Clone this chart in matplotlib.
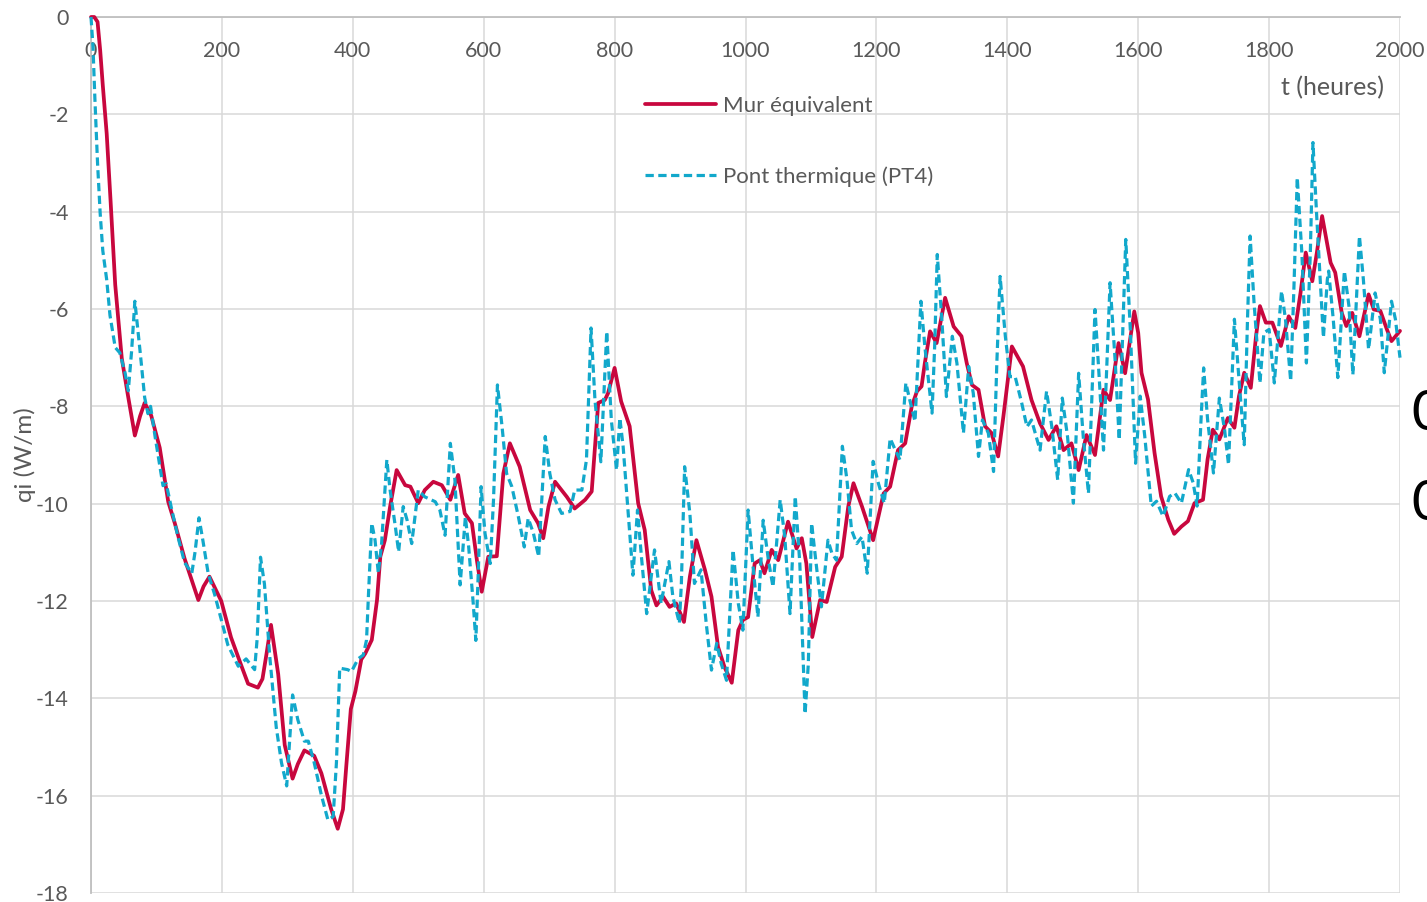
import numpy as np
import matplotlib.pyplot as plt

plt.rcParams['font.family'] = ['Lato', 'DejaVu Sans']

# Mur équivalent
t_mur = [0, 5, 10, 14, 18, 24, 30, 37, 47, 57, 67, 75, 82, 92, 105, 118, 128, 143, 164, 172,
         181, 199, 214, 230, 240, 255, 262, 268, 275, 286, 296, 308, 316, 326, 341, 352, 367, 377, 385, 390,
         397, 404, 413, 419, 429, 437, 442, 449, 457, 467, 480, 488, 500, 510, 523, 536, 549, 561, 571, 582,
         590, 597, 607, 620, 630, 640, 655, 671, 683, 691, 699, 709, 727, 739, 755, 765, 775, 785, 790, 800,
         810, 823, 836, 846, 856, 864, 874, 884, 894, 906, 915, 925, 938, 948, 958, 968, 979, 989, 996, 1004,
         1014, 1022, 1029, 1040, 1050, 1065, 1078, 1086, 1093, 1102, 1114, 1124, 1137, 1147, 1157, 1165, 1178, 1195, 1211, 1221,
         1233, 1244, 1254, 1262, 1269, 1274, 1282, 1292, 1305, 1318, 1330, 1338, 1346, 1356, 1366, 1376, 1386, 1394, 1407, 1424,
         1437, 1450, 1463, 1475, 1486, 1498, 1509, 1521, 1534, 1547, 1557, 1570, 1580, 1594, 1600, 1605, 1615, 1625, 1635, 1646,
         1655, 1666, 1676, 1686, 1699, 1706, 1714, 1724, 1737, 1747, 1754, 1762, 1772, 1780, 1786, 1795, 1805, 1818, 1830, 1840,
         1848, 1856, 1866, 1873, 1881, 1894, 1901, 1911, 1918, 1927, 1938, 1952, 1960, 1970, 1980, 1987, 2000]
q_mur = [0.0, 0.0, -0.1, -0.68, -1.4, -2.4, -3.8, -5.5, -7.01, -7.82, -8.6, -8.2, -7.93, -8.19, -8.85, -9.96, -10.4, -11.13, -11.98, -11.7,
         -11.5, -12.0, -12.75, -13.34, -13.7, -13.78, -13.6, -13.1, -12.49, -13.5, -14.96, -15.65, -15.35, -15.07, -15.18, -15.54, -16.28, -16.68, -16.28, -15.4,
         -14.22, -13.85, -13.2, -13.08, -12.8, -11.98, -11.09, -10.75, -10.06, -9.31, -9.62, -9.65, -9.99, -9.72, -9.55, -9.62, -9.92, -9.41, -10.2, -10.4,
         -11.2, -11.81, -11.09, -11.08, -9.38, -8.76, -9.24, -10.13, -10.4, -10.71, -10.06, -9.55, -9.86, -10.1, -9.92, -9.75, -7.93, -7.87, -7.73, -7.21,
         -7.9, -8.41, -9.99, -10.54, -11.78, -12.09, -11.91, -12.12, -12.05, -12.43, -11.5, -10.75, -11.36, -11.91, -12.94, -13.36, -13.68, -12.6, -12.39, -12.33,
         -11.23, -11.16, -11.43, -10.95, -11.16, -10.37, -10.92, -10.71, -11.23, -12.74, -11.98, -12.02, -11.3, -11.09, -10.06, -9.58, -10.06, -10.75, -9.79, -9.65,
         -8.9, -8.76, -8.0, -7.69, -7.59, -7.11, -6.46, -6.7, -5.77, -6.36, -6.56, -7.11, -7.56, -7.66, -8.41, -8.55, -9.03, -8.21, -6.77, -7.18,
         -7.87, -8.35, -8.69, -8.41, -8.9, -8.76, -9.31, -8.59, -9.0, -7.66, -7.87, -6.7, -7.32, -6.05, -6.49, -7.31, -7.86, -8.96, -9.85, -10.33,
         -10.62, -10.47, -10.36, -9.99, -9.92, -9.09, -8.48, -8.68, -8.24, -8.44, -7.79, -7.31, -7.62, -6.56, -5.94, -6.28, -6.28, -6.76, -6.15, -6.39,
         -5.67, -4.84, -5.43, -4.84, -4.09, -5.05, -5.25, -6.08, -6.35, -6.08, -6.56, -5.7, -6.01, -6.04, -6.42, -6.66, -6.45]

# Pont thermique (PT4)
t_pt4 = [0, 3, 6, 10, 14, 18, 24, 29, 37, 44, 52, 57, 62, 67, 75, 82, 87, 91, 98, 105,
         110, 115, 123, 133, 143, 154, 159, 165, 171, 179, 189, 199, 209, 225, 237, 250, 254, 259, 265, 273,
         283, 291, 299, 303, 308, 316, 326, 332, 341, 352, 362, 370, 375, 380, 392, 398, 408, 416, 421, 424,
         429, 434, 439, 444, 452, 457, 465, 470, 477, 483, 490, 500, 510, 526, 533, 541, 549, 556, 564, 572,
         577, 584, 588, 592, 596, 602, 610, 615, 621, 628, 635, 643, 653, 662, 668, 676, 684, 694, 701, 709,
         719, 732, 739, 750, 757, 764, 770, 779, 788, 795, 803, 808, 813, 820, 828, 835, 841, 849, 861, 871,
         883, 889, 899, 902, 907, 915, 922, 932, 940, 948, 956, 963, 971, 976, 981, 989, 996, 1004, 1012, 1019,
         1027, 1035, 1042, 1053, 1060, 1068, 1076, 1083, 1091, 1096, 1101, 1109, 1116, 1126, 1132, 1139, 1148, 1155, 1162, 1170,
         1178, 1186, 1195, 1203, 1212, 1221, 1229, 1236, 1245, 1251, 1259, 1268, 1274, 1285, 1289, 1293, 1300, 1307, 1316, 1323,
         1333, 1341, 1348, 1356, 1362, 1371, 1379, 1384, 1389, 1397, 1404, 1412, 1422, 1430, 1437, 1450, 1460, 1468, 1477, 1484,
         1492, 1501, 1509, 1516, 1524, 1534, 1540, 1547, 1557, 1565, 1571, 1581, 1588, 1596, 1603, 1610, 1620, 1628, 1638, 1648,
         1656, 1666, 1677, 1684, 1690, 1696, 1700, 1706, 1715, 1724, 1732, 1738, 1747, 1754, 1762, 1767, 1771, 1777, 1786, 1792,
         1800, 1808, 1819, 1825, 1833, 1838, 1843, 1850, 1857, 1863, 1867, 1873, 1883, 1889, 1891, 1898, 1905, 1915, 1922, 1928,
         1938, 1944, 1952, 1962, 1970, 1976, 1987, 1993, 2000]
q_pt4 = [0.0, -0.6, -1.7, -3.0, -4.03, -4.8, -5.4, -6.13, -6.79, -6.9, -7.31, -7.68, -6.87, -5.84, -6.87, -7.82, -8.15, -8.0, -8.63, -9.22,
         -9.63, -9.59, -10.1, -10.69, -11.21, -11.43, -10.99, -10.29, -10.76, -11.43, -11.87, -12.38, -12.9, -13.34, -13.19, -13.41, -12.75, -11.1, -11.65, -13.12,
         -14.59, -15.32, -15.8, -14.96, -13.93, -14.44, -14.88, -14.88, -15.32, -15.99, -16.5, -16.43, -15.32, -13.38, -13.41, -13.45, -13.19, -13.11, -12.8, -11.85,
         -10.4, -10.75, -11.43, -10.82, -9.1, -9.72, -10.47, -10.99, -10.06, -10.34, -10.82, -9.72, -9.86, -9.96, -10.13, -10.65, -8.76, -9.51, -11.67, -10.27,
         -10.88, -12.05, -12.81, -11.3, -9.65, -10.61, -11.23, -9.92, -7.56, -8.41, -9.38, -9.65, -10.27, -10.89, -10.3, -10.61, -11.09, -8.62, -9.38, -9.92,
         -10.2, -10.16, -9.72, -9.72, -9.1, -6.39, -7.87, -9.14, -6.46, -8.28, -9.31, -8.24, -8.82, -10.06, -11.47, -10.13, -11.09, -12.26, -10.95, -12.05,
         -11.19, -11.91, -12.46, -11.64, -9.24, -10.2, -11.64, -11.36, -12.46, -13.42, -12.87, -13.29, -13.63, -12.26, -10.95, -12.05, -12.6, -10.13, -11.36, -12.33,
         -10.34, -11.16, -11.71, -9.92, -10.68, -12.26, -9.85, -11.23, -14.32, -13.29, -10.4, -11.36, -12.12, -10.75, -11.02, -11.16, -8.82, -9.51, -10.54, -10.82,
         -10.68, -11.43, -9.13, -9.58, -9.99, -8.66, -8.9, -9.1, -7.52, -7.87, -8.31, -5.84, -6.77, -8.14, -6.77, -4.88, -6.22, -7.8, -6.56, -7.11,
         -8.55, -7.18, -7.73, -9.03, -8.28, -8.55, -9.34, -7.11, -5.33, -6.56, -7.39, -7.39, -7.93, -8.42, -8.28, -8.9, -7.69, -8.42, -9.51, -7.83,
         -8.62, -9.99, -7.32, -8.62, -9.79, -6.01, -7.32, -8.9, -5.46, -7.11, -8.69, -4.57, -6.43, -9.17, -7.79, -8.61, -10.05, -9.95, -10.26, -9.85,
         -9.78, -9.99, -9.3, -9.57, -10.05, -8.27, -7.21, -8.27, -9.37, -7.83, -8.48, -9.2, -6.21, -7.45, -8.79, -6.21, -4.5, -5.87, -7.52, -6.49,
         -6.42, -7.52, -5.63, -6.21, -7.48, -5.53, -3.3, -4.84, -7.11, -4.84, -2.58, -4.16, -6.59, -5.39, -5.22, -6.21, -7.41, -5.22, -5.94, -7.35,
         -4.5, -5.39, -6.83, -5.67, -6.21, -7.31, -5.84, -6.21, -7.0]

x_ticks = list(range(0, 2001, 200))
y_ticks = list(range(0, -19, -2))

fig = plt.figure(figsize=(14.27, 9.02), dpi=100)
ax = fig.add_axes([91 / 1427, 9 / 902, 1309 / 1427, 876 / 902])

ax.plot(t_mur, q_mur, color='#C8073E', lw=2.7, solid_joinstyle='round',
        solid_capstyle='round', label='Mur équivalent', clip_on=False, zorder=3)
ax.plot(t_pt4, q_pt4, color='#12A8CB', lw=2.3, dashes=(2.6, 1.4),
        dash_joinstyle='round', label='Pont thermique (PT4)', clip_on=False, zorder=4)

ax.set_xlim(0, 2000)
ax.set_ylim(-18, 0)
ax.set_xticks(x_ticks)
ax.set_yticks(y_ticks)
ax.set_yticklabels([str(v) for v in y_ticks])

ax.xaxis.set_ticks_position('top')
ax.tick_params(axis='x', length=0, pad=-32, labelsize=15.5, labelcolor='#595959')
ax.tick_params(axis='y', length=0, pad=16, labelsize=15.5, labelcolor='#595959')

ax.grid(True, color='#d9d9d9', lw=1.1)
ax.set_axisbelow(True)
for side in ['bottom', 'right']:
    ax.spines[side].set_visible(False)
for side in ['left', 'top']:
    ax.spines[side].set_color('#bfbfbf')
    ax.spines[side].set_linewidth(1.3)

ax.legend(loc='upper left', bbox_to_anchor=(645 / 1427, 1 - 96 / 902),
          bbox_transform=fig.transFigure, frameon=False, fontsize=16,
          handlelength=3.2, handletextpad=0.3, labelspacing=2.25,
          borderpad=0, borderaxespad=0, labelcolor='#595959')

fig.text(1384 / 1427, 1 - 88 / 902, 't (heures)', ha='right', va='center',
         fontsize=18, color='#595959')
fig.text(25 / 1427, 1 - 455 / 902, 'qi (W/m)', ha='center', va='center',
         rotation=90, fontsize=17.5, color='#595959')

# labels cut off at the right edge
fig.text(1411 / 1427, 1 - 415 / 902, '0', ha='left', va='center', fontsize=40, color='black')
fig.text(1411 / 1427, 1 - 505 / 902, '0', ha='left', va='center', fontsize=40, color='black')

fig.savefig('out.png', dpi=100)
